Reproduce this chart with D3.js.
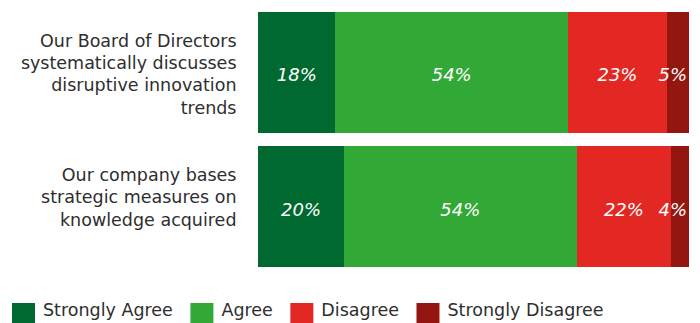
<!DOCTYPE html>
<html><head><meta charset="utf-8">
<script src="https://cdn.jsdelivr.net/npm/d3@7"></script>
<style>body{margin:0;background:#fff}svg{display:block}</style>
</head><body>
<svg id="chart" width="700" height="323"></svg>
<script>
// Survey statements, each wrapped onto several lines
const categories = [
  ["Our Board of Directors", "systematically discusses", "disruptive innovation", "trends"],
  ["Our company bases", "strategic measures on", "knowledge acquired"]
];
const seriesNames = ["Strongly Agree", "Agree", "Disagree", "Strongly Disagree"];
const stronglyAgree = [18, 20];
const agree = [54, 54];
const disagree = [23, 22];
const stronglyDisagree = [5, 4];
const colors = ["#006930", "#32a837", "#e32823", "#931610"];

const font = "'DejaVu Sans', Verdana, sans-serif";
const svg = d3.select("#chart");

const rows = categories.map((lines, i) => ({
  key: i,
  lines,
  "Strongly Agree": stronglyAgree[i],
  "Agree": agree[i],
  "Disagree": disagree[i],
  "Strongly Disagree": stronglyDisagree[i]
}));

const stacked = d3.stack().keys(seriesNames)(rows);

const x = d3.scaleLinear().domain([0, 100]).range([258, 688.5]);
const y = d3.scaleBand().domain(rows.map(d => d.key)).range([12, 267]).paddingInner(0.1);
const color = d3.scaleOrdinal().domain(seriesNames).range(colors);

// Stacked bar segments
const layers = svg.append("g")
  .attr("shape-rendering", "crispEdges")
  .selectAll("g")
  .data(stacked).join("g")
  .attr("fill", s => color(s.key));

layers.selectAll("rect")
  .data(s => s.map(d => ({ s: s.key, d })))
  .join("rect")
  .attr("x", p => x(p.d[0]))
  .attr("y", p => y(p.d.data.key))
  .attr("width", p => x(p.d[1]) - x(p.d[0]))
  .attr("height", y.bandwidth());

// Percentage labels inside segments, kept inside the bar's right end
const labels = svg.append("g")
  .attr("font-family", font)
  .attr("font-style", "italic")
  .attr("font-size", 18)
  .attr("fill", "#ffffff")
  .attr("text-anchor", "middle");

stacked.forEach(s => {
  s.forEach(d => {
    const t = labels.append("text")
      .attr("y", y(d.data.key) + y.bandwidth() / 2 + 9)
      .text((d[1] - d[0]) + "%");
    const w = t.node().getComputedTextLength();
    const cx = Math.min((x(d[0]) + x(d[1])) / 2, x.range()[1] - 1.5 - w / 2);
    t.attr("x", cx);
  });
});

// Category labels on the left
const cat = svg.append("g")
  .attr("font-family", font)
  .attr("font-size", 17.5)
  .attr("fill", "#2e2e2e")
  .attr("text-anchor", "end");

rows.forEach(r => {
  const t = cat.append("text")
    .attr("x", 236.5)
    .attr("y", y(r.key) + y.bandwidth() / 2 - 25.5);
  t.selectAll("tspan").data(r.lines).join("tspan")
    .attr("x", 236.5)
    .attr("dy", (d, i) => i === 0 ? 0 : 22.3)
    .text(d => d);
});

// Legend along the bottom
const legend = svg.append("g")
  .attr("font-family", font)
  .attr("font-size", 17.5)
  .attr("fill", "#2e2e2e");

let lx = 12;
seriesNames.forEach(name => {
  legend.append("rect")
    .attr("x", lx).attr("y", 303)
    .attr("width", 23).attr("height", 23)
    .attr("fill", color(name));
  const t = legend.append("text")
    .attr("x", lx + 31).attr("y", 316)
    .text(name);
  lx += 31 + t.node().getComputedTextLength() + 17.5;
});
</script></body></html>
